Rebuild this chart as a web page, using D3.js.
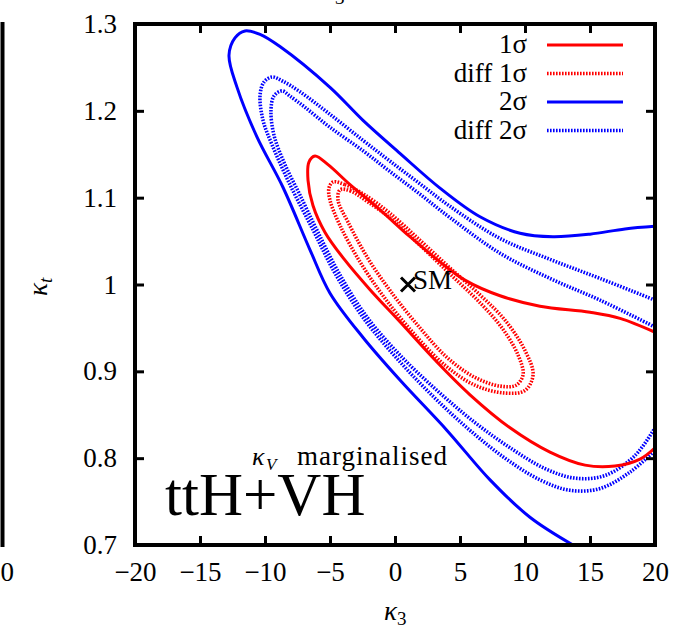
<!DOCTYPE html>
<html>
<head>
<meta charset="utf-8">
<script src="https://cdn.jsdelivr.net/npm/d3@7"></script>
<style>
body { margin: 0; background: #fff; }
svg text { font-family: "Liberation Serif", "Times New Roman", serif; fill: #000; }
</style>
</head>
<body>
<svg id="chart" width="695" height="631"></svg>
<script>
// tick values / labels
const xTicks = [-20, -15, -10, -5, 0, 5, 10, 15, 20];
const yTicks = [0.7, 0.8, 0.9, 1, 1.1, 1.2, 1.3];
const yTickLabels = ["0.7", "0.8", "0.9", "1", "1.1", "1.2", "1.3"];
const legendLabels = ["1σ", "diff 1σ", "2σ", "diff 2σ"];
const smPoint = [1, 1];

// contours, [kappa3, kappa_t]
const sigma2 = [[13.69,0.70],[10.38,0.732],[7.31,0.775],[4.0,0.832],[0.38,0.890],[-2.46,0.939],[-5.0,0.990],
  [-6.54,1.040],[-8.62,1.112],[-10.62,1.170],[-12.15,1.227],[-12.77,1.264],[-12.31,1.284],[-11.54,1.292],
  [-10.38,1.288],[-8.85,1.274],[-5.0,1.227],[-2.46,1.189],[0.38,1.151],[3.46,1.111],[6.54,1.078],
  [9.62,1.059],[12.15,1.055],[15,1.058],[17.69,1.064],[20,1.067]];

const diff2a = [[20,0.982],[15.77,1.007],[11.92,1.029],[8.08,1.053],[4.23,1.090],[1.92,1.116],[-0.38,1.142],
  [-2.46,1.166],[-5,1.196],[-7.31,1.222],[-8.62,1.234],[-9.46,1.239],[-10.08,1.233],[-10.38,1.218],
  [-10.15,1.189],[-9.46,1.161],[-8.08,1.115],[-6.31,1.063],[-4.54,1.011],[-2.31,0.959],[0.38,0.911],
  [3.08,0.869],[5.77,0.832],[8.46,0.800],[11.15,0.775],[13.46,0.763],[15.77,0.765],[18.08,0.784],[20,0.809]];

const diff2b = [[20,0.951],[15.77,0.982],[11.92,1.007],[8.08,1.036],[4.23,1.077],[1.92,1.104],[-0.38,1.130],
  [-2.46,1.154],[-5,1.181],[-6.92,1.204],[-8.08,1.217],[-8.69,1.223],[-9.31,1.217],[-9.54,1.201],
  [-9.31,1.172],[-8.46,1.138],[-7.31,1.103],[-5.92,1.060],[-4.23,1.011],[-2.08,0.961],[0.62,0.915],
  [3.46,0.875],[6.15,0.841],[8.85,0.812],[11.54,0.788],[13.85,0.777],[16.15,0.780],[18.46,0.803],[20,0.835]];

const sigma1 = [[20,0.945],[17.31,0.961],[15,0.968],[11.15,0.975],[8.08,0.987],[5.38,1.005],[3.46,1.026],
  [1.15,1.055],[-1.15,1.086],[-3.46,1.115],[-5.15,1.138],[-6.15,1.148],[-6.62,1.141],[-6.69,1.120],
  [-6.31,1.091],[-5.38,1.060],[-3.85,1.028],[-1.92,0.994],[0.38,0.957],[3.08,0.913],[5.77,0.873],
  [8.85,0.835],[11.92,0.807],[14.62,0.792],[16.92,0.791],[18.85,0.799],[20,0.812]];

const diff1a = [[-4.77,1.118],[-3.85,1.115],[-2.31,1.103],[-0.38,1.082],[1.92,1.051],[4.23,1.019],[6.54,0.988],
  [8.46,0.959],[10,0.924],[10.62,0.896],[10,0.878],[8.46,0.875],[6.15,0.884],[3.85,0.907],[1.54,0.942],
  [-0.77,0.984],[-2.69,1.026],[-4.23,1.068],[-5,1.097],[-5.08,1.111]];

const diff1b = [[-4.23,1.109],[-3.46,1.108],[-2.08,1.095],[-0.15,1.074],[2.08,1.043],[4.38,1.010],[6.54,0.979],
  [8.23,0.950],[9.46,0.919],[9.85,0.896],[9.31,0.884],[8.08,0.883],[6.15,0.893],[4.0,0.916],[1.92,0.950],
  [-0.23,0.990],[-2.08,1.030],[-3.62,1.072],[-4.38,1.097]];

const red = "#ff0000", blue = "#0000ff";

const svg = d3.select("#chart");
const x = d3.scaleLinear().domain([-20, 20]).range([135, 655]);
const y = d3.scaleLinear().domain([0.7, 1.3]).range([545, 24]);

// neighbouring panel leftovers (cut off in the original too)
svg.append("line").attr("x1", 2.5).attr("x2", 2.5).attr("y1", 22).attr("y2", 547)
    .attr("stroke", "#000").attr("stroke-width", 4);
svg.append("text").attr("x", 14).attr("y", 581).attr("text-anchor", "end")
    .attr("font-size", 27).text("20");
svg.append("text").attr("x", 322).attr("y", -2).attr("font-size", 27).attr("font-style", "italic")
    .text("κ").append("tspan").attr("font-style", "normal").attr("font-size", 19).attr("dy", 6).text("3");

svg.append("clipPath").attr("id", "plotclip").append("rect")
    .attr("x", 135).attr("y", 24).attr("width", 520).attr("height", 521);

const plot = svg.append("g").attr("clip-path", "url(#plotclip)");

const line = d3.line().x(d => x(d[0])).y(d => y(d[1])).curve(d3.curveCatmullRom.alpha(0.5));
const loop = d3.line().x(d => x(d[0])).y(d => y(d[1])).curve(d3.curveCatmullRomClosed.alpha(0.5));

const dotted = "1.6,1.4";
function draw(gen, data, color, dash) {
    plot.append("path").datum(data).attr("d", gen).attr("fill", "none")
        .attr("stroke", color).attr("stroke-width", dash ? 3.6 : 3)
        .attr("stroke-dasharray", dash ? dotted : null);
}
draw(line, sigma2, blue, false);
draw(line, diff2a, blue, true);
draw(line, diff2b, blue, true);
draw(line, sigma1, red, false);
draw(loop, diff1a, red, true);
draw(loop, diff1b, red, true);

// SM point
const sx = x(smPoint[0]), sy = y(smPoint[1]);
svg.append("path").attr("d", `M${sx-7},${sy-7}L${sx+7},${sy+7}M${sx-7},${sy+7}L${sx+7},${sy-7}`)
    .attr("stroke", "#000").attr("stroke-width", 3);
svg.append("text").attr("x", sx + 5).attr("y", sy + 4).attr("font-size", 27).text("SM");

// axes, ticks pointing inwards
function styleAxis(g) {
    g.select(".domain").remove();
    g.selectAll(".tick line").attr("stroke", "#000").attr("stroke-width", 3);
    g.attr("font-family", null).attr("font-size", 27);
}
svg.append("g").attr("transform", "translate(0,545)")
    .call(d3.axisBottom(x).tickValues(xTicks).tickSize(-9).tickPadding(17)
        .tickFormat(d => d < 0 ? "−" + Math.abs(d) : d))
    .call(styleAxis);
svg.append("g").attr("transform", "translate(0,24)")
    .call(d3.axisTop(x).tickValues(xTicks).tickSize(-9).tickFormat(""))
    .call(styleAxis);
svg.append("g").attr("transform", "translate(135,0)")
    .call(d3.axisLeft(y).tickValues(yTicks).tickSize(-9).tickPadding(18)
        .tickFormat((d, i) => yTickLabels[i]))
    .call(styleAxis);
svg.append("g").attr("transform", "translate(655,0)")
    .call(d3.axisRight(y).tickValues(yTicks).tickSize(-9).tickFormat(""))
    .call(styleAxis);

svg.append("rect").attr("x", 135).attr("y", 24).attr("width", 520).attr("height", 521)
    .attr("fill", "none").attr("stroke", "#000").attr("stroke-width", 4);

// axis titles
svg.append("text").attr("x", 384).attr("y", 620).attr("font-size", 27).attr("font-style", "italic")
    .text("κ").append("tspan").attr("font-style", "normal").attr("font-size", 19).attr("dy", 5).text("3");
svg.append("text").attr("transform", "translate(47,296) rotate(-90)").attr("font-size", 27)
    .attr("font-style", "italic").text("κ")
    .append("tspan").attr("font-size", 19).attr("dy", 5).text("t");

// legend
const legend = svg.append("g");
const legendStyle = [[red, false], [red, true], [blue, false], [blue, true]];
legendLabels.forEach((lab, i) => {
    const by = 53 + i * 28.5;
    legend.append("text").attr("x", 527).attr("y", by).attr("text-anchor", "end")
        .attr("font-size", 27).text(lab);
    legend.append("line").attr("x1", 547).attr("x2", 623).attr("y1", by - 8).attr("y2", by - 8)
        .attr("stroke", legendStyle[i][0]).attr("stroke-width", legendStyle[i][1] ? 3.6 : 3)
        .attr("stroke-dasharray", legendStyle[i][1] ? dotted : null);
});

// annotations
svg.append("text").attr("x", 252).attr("y", 465).attr("font-size", 26)
    .attr("font-style", "italic").text("κ");
svg.append("text").attr("x", 266).attr("y", 470).attr("font-size", 17)
    .attr("font-style", "italic").text("V");
svg.append("text").attr("x", 297).attr("y", 465).attr("font-size", 27)
    .attr("textLength", 150).attr("lengthAdjust", "spacing").text("marginalised");
svg.append("text").attr("x", 165).attr("y", 515).attr("font-size", 61).text("ttH+VH");
</script>
</body>
</html>
